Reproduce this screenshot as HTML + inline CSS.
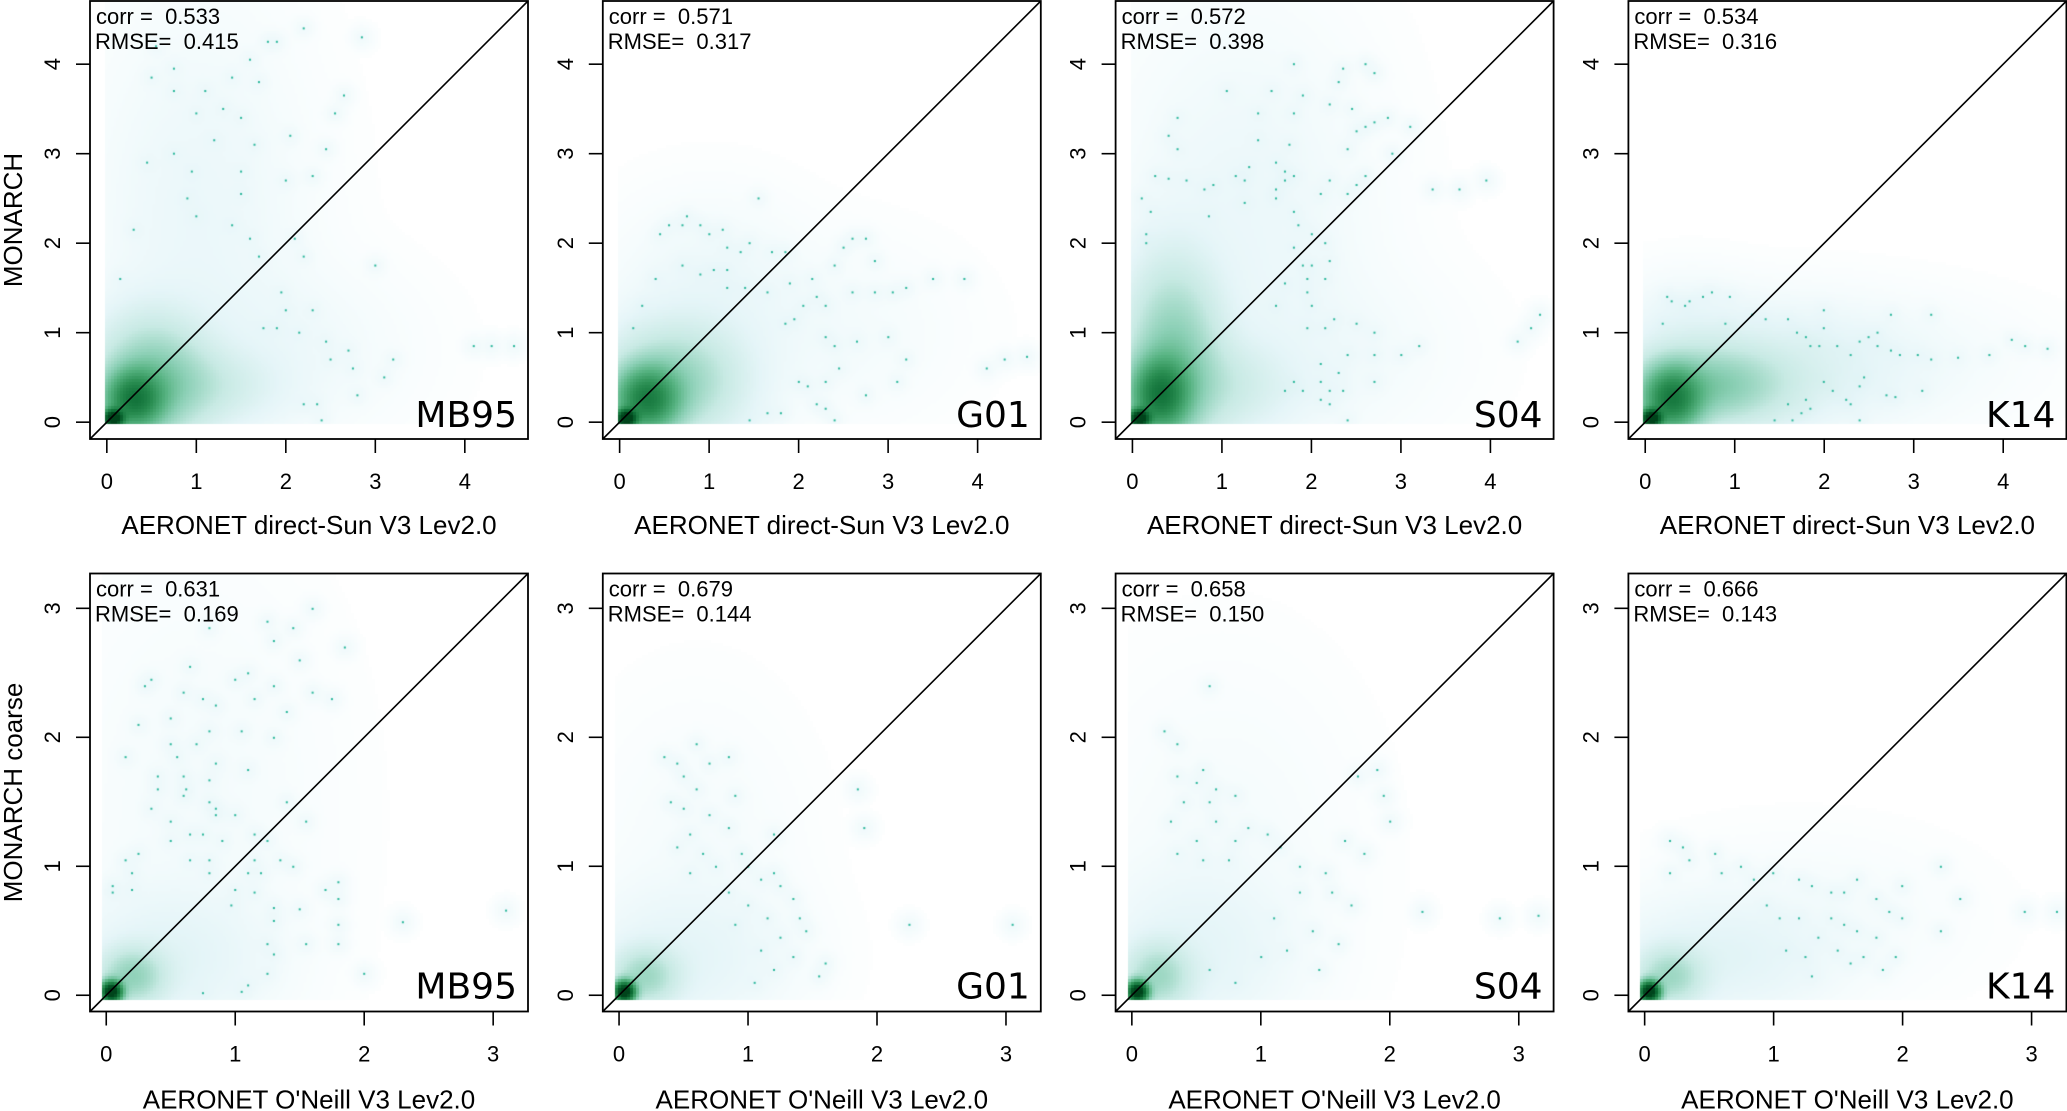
<!DOCTYPE html>
<html><head><meta charset="utf-8">
<style>
html,body{margin:0;padding:0;background:#fff;}
#wrap{position:relative;width:2067px;height:1111px;overflow:hidden;background:#fff;}
canvas{position:absolute;}
svg{position:absolute;left:0;top:0;}
text{font-family:"Liberation Sans",sans-serif;fill:#000;white-space:pre;}
.lab{font-family:"DejaVu Sans","Liberation Sans",sans-serif;}
</style></head>
<body>
<div id="wrap"></div>
<script>
// ---------- data ----------
const panelLabels = ['MB95','G01','S04','K14'];
const corrTop = ['0.533','0.571','0.572','0.534'];
const rmseTop = ['0.415','0.317','0.398','0.316'];
const corrBot = ['0.631','0.679','0.658','0.666'];
const rmseBot = ['0.169','0.144','0.150','0.143'];
const ticksTop = [0,1,2,3,4];
const ticksBot = [0,1,2,3];
const xTitleTop = 'AERONET direct-Sun V3 Lev2.0';
const xTitleBot = "AERONET O'Neill V3 Lev2.0";
const yTitleTop = 'MONARCH';
const yTitleBot = 'MONARCH coarse';
// density components [cx, cy, sx, sy, weight] in data units
const densTop = [
 [[0.07,0.04,0.07,0.06,1.2],[0.3,0.25,0.2,0.2,0.5],[0.5,0.45,0.35,0.4,0.15],[0.9,0.4,0.5,0.25,0.05],[1.0,2.2,0.6,1.2,0.005],[1.5,0.8,0.8,0.5,0.005]],
 [[0.07,0.04,0.07,0.06,1.2],[0.3,0.25,0.22,0.22,0.5],[0.6,0.45,0.42,0.35,0.12],[1.0,1.2,0.55,0.55,0.007],[2.3,1.0,0.7,0.5,0.0015]],
 [[0.07,0.04,0.07,0.06,1.2],[0.3,0.3,0.2,0.25,0.5],[0.45,0.7,0.3,0.6,0.15],[0.8,0.4,0.5,0.3,0.05],[1.2,2.1,0.7,1.2,0.005],[1.8,0.8,0.8,0.5,0.003]],
 [[0.07,0.04,0.07,0.06,1.2],[0.3,0.25,0.2,0.22,0.5],[0.7,0.4,0.5,0.25,0.15],[1.4,0.6,0.8,0.35,0.02],[2.4,0.7,0.9,0.35,0.002],[0.5,1.0,0.4,0.3,0.008]]
];
const densBot = [
 [[0.04,0.03,0.05,0.05,1.2],[0.2,0.15,0.15,0.13,0.12],[0.5,0.3,0.4,0.3,0.012],[0.7,1.4,0.5,0.9,0.0012]],
 [[0.04,0.03,0.05,0.05,1.2],[0.2,0.15,0.15,0.13,0.1],[0.5,0.3,0.4,0.3,0.01],[0.6,1.0,0.4,0.6,0.001]],
 [[0.04,0.03,0.05,0.05,1.2],[0.2,0.15,0.15,0.15,0.1],[0.5,0.35,0.4,0.35,0.01],[0.7,1.1,0.5,0.7,0.001]],
 [[0.04,0.03,0.05,0.05,1.2],[0.2,0.15,0.15,0.13,0.1],[0.6,0.3,0.45,0.25,0.012],[1.2,0.6,0.6,0.3,0.0012]]
];
// outlier points (x, y)
const ptsTop = [
 [[0.55,4.2],[0.75,3.95],[0.5,3.85],[0.75,3.7],[1.1,3.7],[1.4,3.85],[1.6,4.05],[1.7,3.8],[1.0,3.45],[1.3,3.5],[1.5,3.4],[1.2,3.15],[1.65,3.1],[2.05,3.2],[0.45,2.9],[0.75,3.0],[0.95,2.8],[1.5,2.8],[2.0,2.7],[2.3,2.75],[0.9,2.5],[1.5,2.55],[1.0,2.3],[1.4,2.2],[0.3,2.15],[1.6,2.05],[2.1,2.05],[1.7,1.85],[2.2,1.85],[0.15,1.6],[3.0,1.75],[1.95,1.45],[2.0,1.25],[2.3,1.25],[1.75,1.05],[1.9,1.05],[2.15,1.0],[2.45,0.9],[2.5,0.7],[2.7,0.8],[2.75,0.6],[3.2,0.7],[3.1,0.5],[2.8,0.3],[2.2,0.2],[2.35,0.2],[2.4,0.02],[4.1,0.85],[4.3,0.85],[4.55,0.85],[2.2,4.4],[2.85,4.3],[1.8,4.25],[1.9,4.25],[2.55,3.45],[2.65,3.65],[2.45,3.05]],
 [[0.45,2.1],[0.55,2.2],[0.7,2.2],[0.9,2.2],[1.0,2.1],[1.15,2.15],[0.75,2.3],[1.55,2.5],[1.2,1.95],[1.35,1.9],[1.45,2.0],[1.7,1.9],[1.85,1.9],[0.7,1.75],[1.05,1.7],[1.2,1.7],[0.9,1.65],[0.4,1.6],[1.2,1.5],[1.4,1.5],[1.65,1.45],[1.9,1.55],[2.15,1.6],[2.2,1.4],[2.3,1.3],[2.05,1.3],[1.85,1.1],[1.95,1.15],[2.4,1.75],[2.5,1.95],[2.6,2.05],[2.75,2.05],[2.85,1.8],[2.6,1.45],[2.85,1.45],[3.05,1.45],[3.2,1.5],[3.5,1.6],[3.85,1.6],[0.15,1.05],[0.25,1.3],[2.3,0.95],[2.65,0.9],[3.0,0.95],[2.4,0.85],[2.45,0.6],[3.2,0.7],[3.1,0.45],[2.0,0.45],[2.1,0.4],[2.3,0.45],[2.75,0.3],[2.2,0.2],[2.3,0.15],[1.65,0.1],[1.8,0.1],[1.45,0.02],[2.4,0.02],[4.1,0.6],[4.3,0.7],[4.55,0.73]],
 [[1.8,4.0],[2.35,3.95],[2.6,4.0],[2.7,3.9],[1.05,3.7],[1.55,3.7],[1.9,3.65],[2.3,3.8],[2.2,3.55],[2.45,3.5],[1.4,3.45],[1.8,3.45],[2.7,3.35],[2.85,3.4],[3.1,3.3],[2.5,3.25],[2.6,3.3],[0.5,3.4],[0.4,3.2],[0.5,3.05],[1.4,3.15],[1.75,3.1],[2.4,3.05],[2.9,3.0],[1.3,2.85],[1.6,2.9],[1.7,2.8],[0.25,2.75],[0.4,2.72],[0.6,2.7],[1.15,2.75],[1.8,2.75],[2.2,2.7],[2.6,2.75],[0.9,2.65],[1.25,2.7],[1.7,2.7],[1.6,2.6],[2.5,2.65],[2.4,2.55],[0.1,2.5],[0.8,2.6],[1.6,2.5],[2.1,2.55],[1.25,2.45],[0.2,2.35],[0.85,2.3],[1.8,2.35],[0.15,2.1],[0.15,2.0],[1.85,2.2],[2.0,2.1],[2.15,2.0],[1.8,1.95],[2.2,1.8],[1.9,1.75],[2.0,1.75],[1.95,1.6],[2.15,1.6],[1.7,1.55],[1.95,1.45],[1.6,1.3],[2.0,1.3],[2.25,1.15],[1.95,1.05],[2.15,1.05],[2.5,1.1],[2.7,1.0],[2.4,0.75],[2.7,0.75],[3.0,0.75],[3.2,0.85],[2.1,0.65],[2.3,0.55],[1.8,0.45],[2.1,0.45],[2.7,0.45],[1.7,0.35],[1.9,0.35],[2.2,0.35],[2.35,0.35],[2.1,0.25],[2.2,0.2],[2.4,0.02],[3.35,2.6],[3.65,2.6],[3.95,2.7],[4.3,0.9],[4.45,1.05],[4.55,1.2]],
 [[0.25,1.4],[0.3,1.35],[0.65,1.4],[0.75,1.45],[0.95,1.4],[0.2,1.1],[0.45,1.3],[0.5,1.35],[0.9,1.1],[1.2,1.2],[1.35,1.15],[1.6,1.15],[1.7,1.0],[1.8,0.95],[1.85,0.85],[2.0,1.05],[2.0,1.25],[1.95,0.85],[2.15,0.85],[2.3,0.75],[2.4,0.9],[2.5,0.95],[2.6,1.0],[2.6,0.85],[2.75,0.8],[2.85,0.75],[3.05,0.75],[3.2,0.7],[3.5,0.72],[3.85,0.75],[4.1,0.92],[4.25,0.85],[4.5,0.82],[2.75,1.2],[3.2,1.2],[2.0,0.45],[2.1,0.35],[2.25,0.25],[2.3,0.2],[2.4,0.4],[2.45,0.5],[1.8,0.25],[1.75,0.1],[1.85,0.15],[1.6,0.2],[1.45,0.02],[1.65,0.02],[2.4,0.02],[2.7,0.3],[2.8,0.28],[3.1,0.35]]
];
const ptsBot = [
 [[1.6,3.0],[1.25,2.9],[0.8,2.85],[1.45,2.85],[1.3,2.75],[1.85,2.7],[1.5,2.6],[0.65,2.55],[1.0,2.45],[1.1,2.5],[0.35,2.45],[0.3,2.4],[0.6,2.35],[0.75,2.3],[1.3,2.4],[1.6,2.35],[1.75,2.3],[1.15,2.3],[0.85,2.25],[1.4,2.2],[0.5,2.15],[0.25,2.1],[1.05,2.05],[1.3,2.0],[0.8,2.05],[0.5,1.95],[0.7,1.95],[0.15,1.85],[0.55,1.85],[0.85,1.8],[1.1,1.75],[0.4,1.7],[0.6,1.7],[0.8,1.67],[0.4,1.6],[0.62,1.6],[0.6,1.55],[0.8,1.5],[1.4,1.5],[0.35,1.45],[0.85,1.45],[0.5,1.35],[0.85,1.4],[1.0,1.4],[1.55,1.35],[0.65,1.25],[0.75,1.25],[1.15,1.25],[0.5,1.2],[0.9,1.2],[1.25,1.2],[0.15,1.05],[0.25,1.1],[0.65,1.05],[0.8,1.05],[1.15,1.05],[1.35,1.05],[1.45,1.0],[0.2,0.95],[0.8,0.95],[1.1,0.95],[1.2,0.95],[0.05,0.85],[0.05,0.8],[0.2,0.82],[1.0,0.82],[1.15,0.8],[1.7,0.82],[1.8,0.88],[0.97,0.7],[1.3,0.68],[1.5,0.67],[1.8,0.75],[1.3,0.58],[1.8,0.55],[2.3,0.57],[3.1,0.66],[1.25,0.4],[1.55,0.4],[1.8,0.4],[1.3,0.32],[1.25,0.17],[2.0,0.17],[1.1,0.08],[0.75,0.02],[1.05,0.03]],
 [[0.6,1.95],[0.35,1.85],[0.45,1.8],[0.7,1.8],[0.85,1.85],[0.5,1.7],[0.6,1.6],[0.9,1.55],[0.4,1.5],[0.5,1.45],[0.7,1.4],[0.85,1.3],[0.55,1.25],[0.45,1.15],[0.65,1.1],[0.95,1.1],[0.75,1.0],[1.0,1.0],[0.55,0.95],[1.1,0.9],[1.2,0.95],[0.85,0.8],[1.25,0.85],[1.0,0.7],[1.35,0.75],[1.15,0.6],[1.4,0.6],[0.9,0.55],[1.25,0.45],[1.45,0.5],[1.1,0.35],[1.35,0.3],[1.6,0.25],[1.2,0.2],[1.05,0.1],[1.55,0.15],[1.2,1.25],[1.9,1.3],[2.25,0.55],[3.05,0.55],[1.85,1.6]],
 [[0.25,2.05],[0.6,2.4],[0.35,1.95],[0.55,1.75],[0.35,1.7],[0.5,1.65],[0.65,1.6],[0.8,1.55],[0.4,1.5],[0.6,1.5],[0.3,1.35],[0.65,1.35],[0.9,1.3],[1.05,1.25],[0.5,1.2],[0.8,1.2],[0.35,1.1],[0.55,1.05],[0.75,1.05],[1.15,1.15],[1.3,1.0],[1.5,0.95],[1.9,1.75],[1.75,1.7],[1.95,1.55],[2.0,1.35],[1.65,1.2],[1.8,1.1],[1.55,0.8],[1.7,0.7],[1.3,0.8],[1.1,0.6],[1.4,0.5],[1.6,0.4],[1.2,0.35],[1.0,0.3],[1.45,0.2],[2.25,0.65],[2.85,0.6],[3.15,0.62],[0.6,0.2],[0.8,0.1]],
 [[0.2,1.2],[0.3,1.15],[0.35,1.05],[0.2,0.95],[0.55,1.1],[0.6,0.95],[0.75,1.0],[0.85,0.9],[1.0,0.95],[1.2,0.9],[1.3,0.85],[1.45,0.8],[1.55,0.8],[1.65,0.9],[1.8,0.75],[1.9,0.65],[2.0,0.6],[2.3,1.0],[2.3,0.5],[1.45,0.6],[1.55,0.55],[1.65,0.5],[1.8,0.45],[1.35,0.45],[1.5,0.35],[1.7,0.3],[1.95,0.3],[1.6,0.25],[1.25,0.3],[1.1,0.35],[1.05,0.6],[0.95,0.7],[1.2,0.6],[2.95,0.65],[3.2,0.65],[2.0,0.85],[2.45,0.75],[1.3,0.15],[1.85,0.2]]
];

// ---------- layout ----------
const W = 438, COL0 = 90, COLSTEP = 512.8;
const rows = [
 {top:1, dom:[-0.188,4.706], ticks:ticksTop, corr:corrTop, rmse:rmseTop, dens:densTop, pts:ptsTop, xt:xTitleTop, yt:yTitleTop, ps:0.07, lblUp:12},
 {top:573.5, dom:[-0.126,3.27], ticks:ticksBot, corr:corrBot, rmse:rmseBot, dens:densBot, pts:ptsBot, xt:xTitleBot, yt:yTitleBot, ps:0.05, lblUp:13}
];
const pal = [[0,[255,255,255]],[0.08,[246,252,253]],[0.2,[229,245,248]],[0.35,[200,234,228]],[0.5,[140,208,182]],[0.63,[85,178,128]],[0.76,[42,142,82]],[0.88,[12,108,52]],[1,[0,68,27]]];
function colorAt(f){
  for(let i=1;i<pal.length;i++){ if(f<=pal[i][0]){ const a=pal[i-1],b=pal[i],t=(f-a[0])/(b[0]-a[0]);
    return 'rgb('+[0,1,2].map(k=>Math.round(a[1][k]+(b[1][k]-a[1][k])*t)).join(',')+')'; } }
  return 'rgb(0,68,27)';
}
const wrap = document.getElementById('wrap');
const NS='http://www.w3.org/2000/svg';
const svg=document.createElementNS(NS,'svg');
svg.setAttribute('width','2067');svg.setAttribute('height','1111');


function el(tag,attrs,parent){const e=document.createElementNS(NS,tag);for(const k in attrs)e.setAttribute(k,attrs[k]);(parent||svg).appendChild(e);return e;}

rows.forEach((R,ri)=>{
  const [d0,d1]=R.dom, sc=W/(d1-d0);
  for(let c=0;c<4;c++){
    const L=COL0+c*COLSTEP, T=R.top;
    const sx=v=>L+(v-d0)*sc, sy=v=>T+W-(v-d0)*sc;
    const cv=document.createElement('canvas');
    cv.width=W;cv.height=W;cv.style.left=L+'px';cv.style.top=T+'px';
    
    
    wrap.appendChild(cv);
    const ctx=cv.getContext('2d');
    const cell=3, n=Math.ceil(W/cell);
    const comps=R.dens[c], pts=R.pts[c];
    for(let i=0;i<n;i++){for(let j=0;j<n;j++){
      const x=d0+(i*cell+1.5)/sc, y=d0+(W-(j*cell+1.5))/sc;
      if(x<-0.035||y<-0.035) continue;
      let D=0;
      for(const p of comps){const dx=(x-p[0])/p[2],dy=(y-p[1])/p[3];D+=p[4]*Math.exp(-0.5*(dx*dx+dy*dy));}
      for(const p of pts){const dx=(x-p[0])/R.ps,dy=(y-p[1])/R.ps;const q=dx*dx+dy*dy;if(q<12)D+=0.002*Math.exp(-0.5*q);}
      const f=Math.min(1,Math.pow(D,0.35));
      if(f<0.02) continue;
      ctx.fillStyle=colorAt(f);ctx.fillRect(i*cell,j*cell,cell,cell);
    }}
    ctx.fillStyle='#2cb89c';
    pts.forEach(p=>{ctx.fillRect(sx(p[0])-L-1,sy(p[1])-T-1,2,2);});

    const g=el('g',{});
    
    
    const dl=el('line',{x1:sx(d0),y1:sy(d0),x2:sx(d1),y2:sy(d1),stroke:'#000','stroke-width':1.6},g);
    
    
    const bx=el('rect',{x:L,y:T,width:W,height:W,fill:'none',stroke:'#000','stroke-width':1.8},g);
    
    
    R.ticks.forEach(t=>{
      const xt=el('line',{x1:sx(t),y1:T+W,x2:sx(t),y2:T+W+14,stroke:'#000','stroke-width':1.6},g);
      
      
      const xl=el('text',{x:sx(t),y:T+W+50,'font-size':22,'text-anchor':'middle'},g);xl.textContent=t;
      
      
      const yt=el('line',{x1:L-14,y1:sy(t),x2:L,y2:sy(t),stroke:'#000','stroke-width':1.6},g);
      
      
      const yl=el('text',{x:0,y:0,'font-size':22,'text-anchor':'middle',transform:'translate('+(L-30)+','+sy(t)+') rotate(-90)'},g);yl.textContent=t;
      
      
    });
    const t1=el('text',{x:L+6,y:T+23,'font-size':22,'xml:space':'preserve'},g);t1.textContent='corr =  '+R.corr[c];
    
    
    const t2=el('text',{x:L+5,y:T+48,'font-size':22},g);t2.textContent='RMSE=  '+R.rmse[c];
    
    
    const pl=el('text',{x:L+W-11,y:T+W-R.lblUp,'font-size':36,'text-anchor':'end','class':'lab'},g);pl.textContent=panelLabels[c];
    
    
    const xa=el('text',{x:L+W/2,y:T+W+95+(ri?2:0),'font-size':26,'text-anchor':'middle'},g);xa.textContent=R.xt;
    
    
    if(c===0){
      const ya=el('text',{x:0,y:0,'font-size':26,'text-anchor':'middle',transform:'translate(22,'+(T+W/2)+') rotate(-90)'},g);ya.textContent=R.yt;
      
      
    }
  }
});
wrap.appendChild(svg);
</script>
</body></html>
